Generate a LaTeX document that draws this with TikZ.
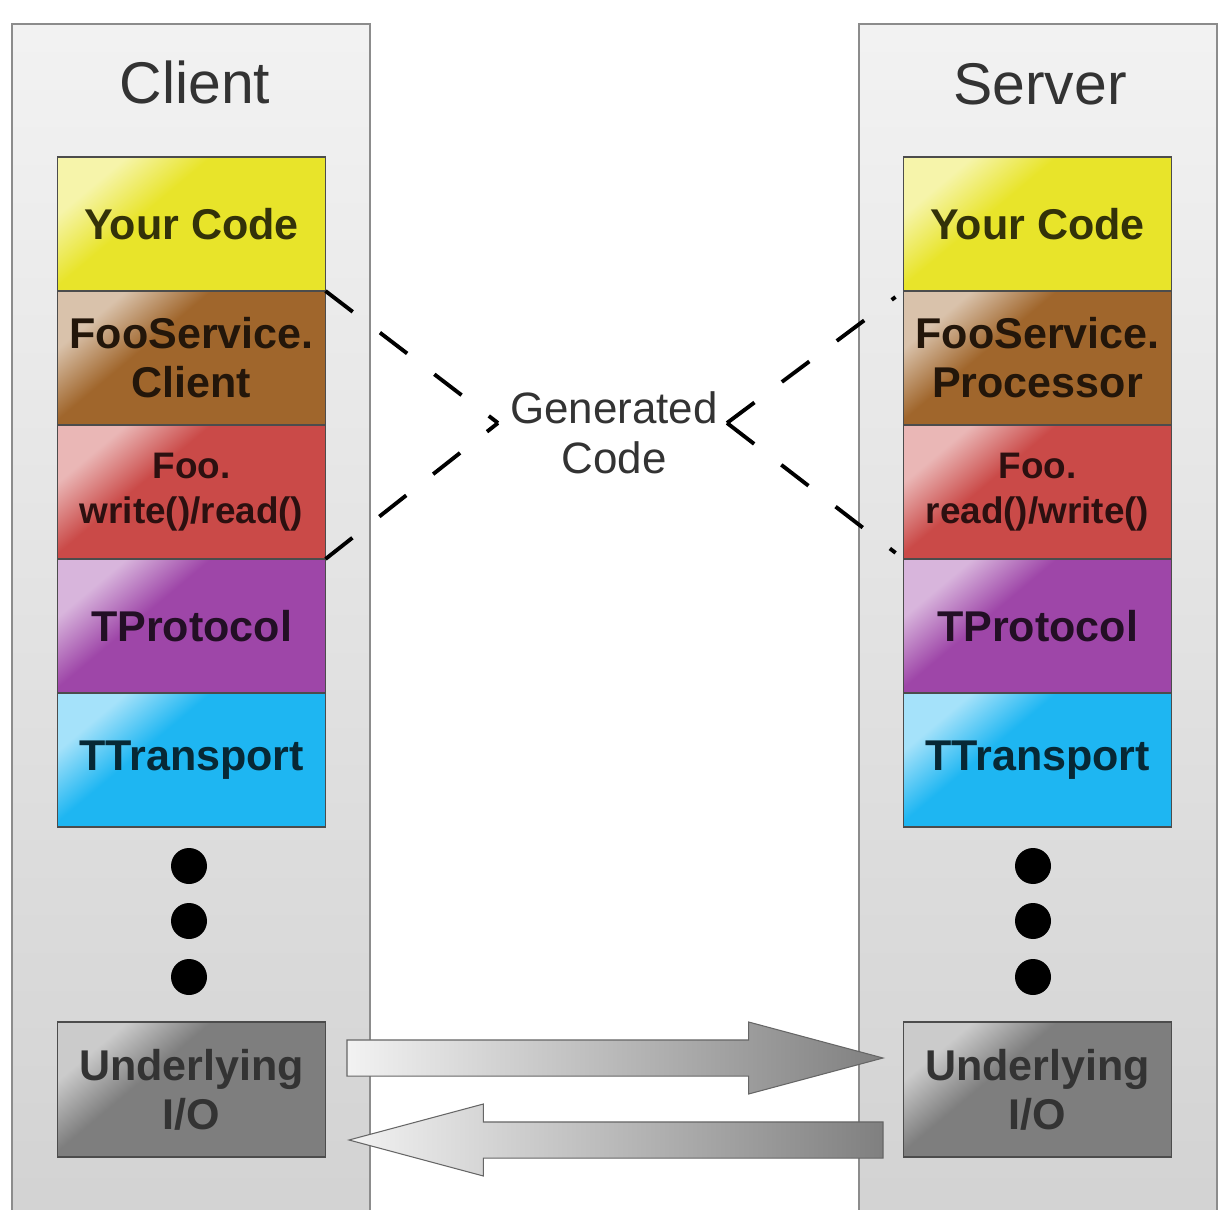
\documentclass[tikz,border=0pt]{standalone}
\usepackage{fontspec}
\setmainfont{Liberation Sans}
\usetikzlibrary{
  positioning,
  calc,
  shapes.arrows
}
\definecolor{thYellow}{HTML}{E8E42A}
\definecolor{thBrown}{HTML}{A0662C}
\definecolor{thRed}{HTML}{CA4A48}
\definecolor{thPurple}{HTML}{9E46A8}
\definecolor{thCyan}{HTML}{1EB6F2}
\definecolor{thIO}{HTML}{7E7E7E}
\definecolor{thPanel}{HTML}{D2D2D2}
\definecolor{thText}{HTML}{333333}
\colorlet{thTop}{white}
\colorlet{thBase}{gray}
% pale corner, then the plain colour
\pgfdeclareverticalshading[thTop,thBase]{stackshade}{100bp}{
  color(0bp)=(thBase); color(60bp)=(thBase); color(74bp)=(thTop); color(100bp)=(thTop)}
\tikzset{
  panel/.style={
    draw=black!45, line width=0.8pt, top color=black!5, bottom color=thPanel,
    minimum width=7.16cm, minimum height=24.2cm, anchor=north west,
    inner sep=0pt, outer sep=0pt
  },
  paneltitle/.style={font=\fontsize{33.5}{36}\selectfont, text=thText, anchor=base},
  stackbox/.style={
    draw=black!70, line width=0.8pt, minimum width=5.36cm, minimum height=2.68cm,
    inner sep=0pt, outer sep=0pt, align=center,
    font=\fontsize{24.5}{28}\selectfont\bfseries, text=#1!22!black,
    /utils/exec={\colorlet{thTop}{white!60!#1}\colorlet{thBase}{#1}},
    shading=stackshade, shading angle=40
  },
  smalltext/.style={font=\fontsize{21}{26}\selectfont\bfseries},
  iobox/.style={stackbox=thIO, minimum height=2.7cm, text=black!80},
  ellipsisdot/.style={circle, fill=black, minimum size=0.72cm, inner sep=0pt},
  gencode/.style={font=\fontsize{25}{28.5}\selectfont, text=thText, align=center},
  genline/.style={line width=2.2pt, dash pattern=on 19.5pt off 19.5pt},
  fatarrow/.style={
    single arrow, draw=black!60, line width=0.6pt, minimum width=1.42cm,
    single arrow head extend=0.36cm, single arrow tip angle=30,
    inner xsep=0pt, inner ysep=0.35cm, outer sep=0pt, anchor=tail,
    left color=black!5, middle color=black!50, right color=black!50
  }
}

\begin{document}
\begin{tikzpicture}
  \clip (0,0) rectangle (24.56,-24.2);
  % the two sides
  \node[panel] (cpanel) at (0.24,-0.48) {};
  \node[panel] (spanel) at (17.18,-0.48) {};
  \node[paneltitle] (ctitle) at (3.9,-2.07) {Client};
  \node[paneltitle] (stitle) at (20.8,-2.09) {Server};

  % client stack
  \node[stackbox=thYellow] (cy) at (3.83,-4.48) {Your Code};
  \node[stackbox=thBrown, below=0pt of cy] (cf) {FooService.\\Client};
  \node[stackbox=thRed, smalltext, below=0pt of cf] (cw) {Foo.\\write()/read()};
  \node[stackbox=thPurple, below=0pt of cw] (cp) {TProtocol};
  \node[stackbox=thCyan, below=0pt of cp] (ct) {TTransport};

  % server stack
  \node[stackbox=thYellow] (sy) at (20.75,-4.48) {Your Code};
  \node[stackbox=thBrown, below=0pt of sy] (sf) {FooService.\\Processor};
  \node[stackbox=thRed, smalltext, below=0pt of sf] (sw) {Foo.\\read()/write()};
  \node[stackbox=thPurple, below=0pt of sw] (sp) {TProtocol};
  \node[stackbox=thCyan, below=0pt of sp] (st) {TTransport};

  \foreach \y [count=\i] in {-17.32,-18.42,-19.54}{
    \node[ellipsisdot] (cd\i) at (3.78,\y) {};
    \node[ellipsisdot] (sd\i) at (20.66,\y) {};
  }

  \node[iobox] (cio) at (3.83,-21.79) {Underlying\\I/O};
  \node[iobox] (sio) at (20.75,-21.79) {Underlying\\I/O};

  % generated code
  \node[gencode] (gen) at (12.28,-8.66) {Generated\\Code};
  \coordinate (gl) at (9.96,-8.46);
  \coordinate (gr) at (14.54,-8.46);
  \draw[genline] (cy.south east) -- (gl);
  \draw[genline] (cp.north east) -- (gl);
  \draw[genline, shorten >=0.2cm] (gr) -- (sy.south west);
  \draw[genline, shorten >=0.2cm] (gr) -- (sp.north west);

  % traffic between the I/O layers
  \node[fatarrow, minimum height=10.72cm] (req) at (6.94,-21.16) {};
  \node[fatarrow, minimum height=10.68cm, shape border rotate=180] (resp) at (17.66,-22.80) {};
\end{tikzpicture}
\end{document}
